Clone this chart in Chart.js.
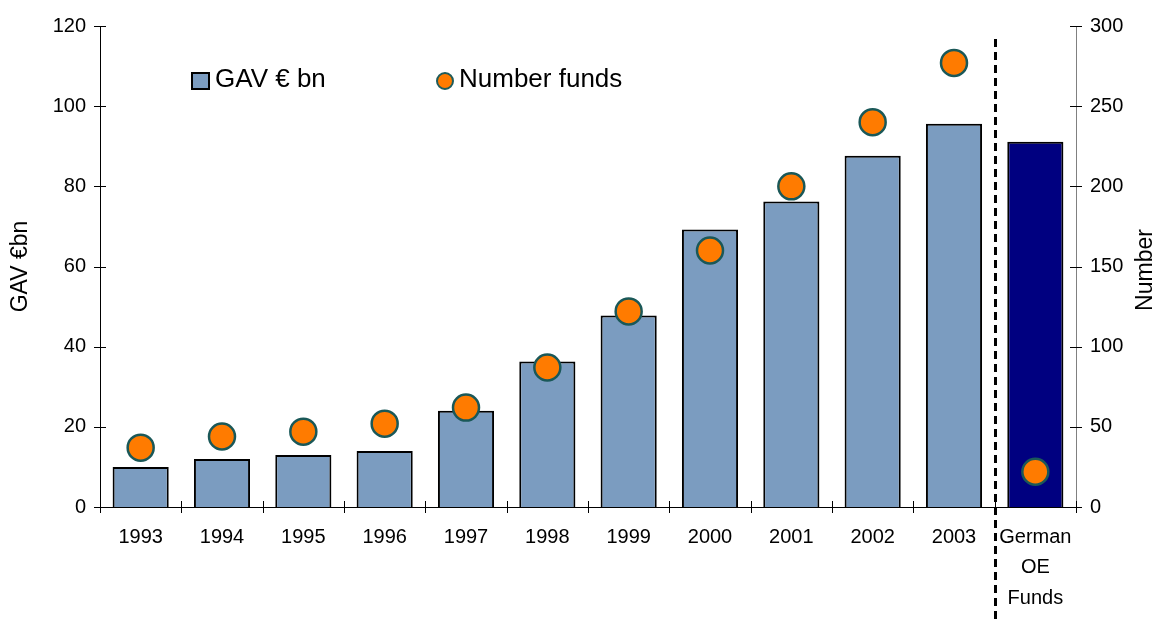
<!DOCTYPE html>
<html lang="en">
<head>
    <meta charset="UTF-8">
    <title>GAV and number of funds</title>
    <script src="https://cdn.jsdelivr.net/npm/chart.js"></script>
    <style>
        html, body { margin: 0; padding: 0; background: #fff; }
        .chart-container { position: relative; width: 1158px; height: 619px; }
    </style>
</head>
<body>
    <div class="chart-container">
        <canvas id="gavChart" width="1158" height="619"></canvas>
    </div>

    <script>
        // Years plus the German open-ended funds comparison column
        const categories = ['1993', '1994', '1995', '1996', '1997', '1998', '1999',
                            '2000', '2001', '2002', '2003', ['German', 'OE', 'Funds']];
        const gavValues = [10, 12, 13, 14, 24, 36.3, 47.8, 69.2, 76.2, 87.6, 95.6, 91.1];
        const fundCounts = [37, 44, 47, 52, 62, 87, 122, 160, 200, 240, 277, 22];
        const gavTicks = [0, 20, 40, 60, 80, 100, 120];
        const countTicks = [0, 50, 100, 150, 200, 250, 300];

        const FONT = 'Arial, "Liberation Sans", sans-serif';
        const barColors = categories.map((c, i) => i === categories.length - 1 ? '#000080' : '#7b9cc0');

        // Tick marks that cross the axis lines, like the original chart
        const crossTicks = {
            id: 'crossTicks',
            afterDraw(chart) {
                const ctx = chart.ctx;
                const { x, y, y1 } = chart.scales;
                const area = chart.chartArea;
                ctx.save();
                ctx.lineWidth = 1;
                ctx.strokeStyle = '#000';
                ctx.beginPath();
                y.ticks.forEach(t => {
                    const py = Math.round(y.getPixelForValue(t.value)) + 0.5;
                    ctx.moveTo(area.left - 6, py);
                    ctx.lineTo(area.left + 6, py);
                });
                y1.ticks.forEach(t => {
                    const py = Math.round(y1.getPixelForValue(t.value)) + 0.5;
                    ctx.moveTo(area.right - 6, py);
                    ctx.lineTo(area.right + 6, py);
                });
                const step = x.getPixelForValue(1) - x.getPixelForValue(0);
                for (let i = 0; i <= categories.length; i++) {
                    const px = Math.round(x.getPixelForValue(0) - step / 2 + i * step) + 0.5;
                    ctx.moveTo(px, area.bottom - 6);
                    ctx.lineTo(px, area.bottom + 6);
                }
                ctx.stroke();

                // dashed separator before the comparison column
                const sepX = Math.round(x.getPixelForValue(categories.length - 1) - step / 2) + 0.5;
                ctx.beginPath();
                ctx.lineWidth = 3;
                ctx.setLineDash([8, 5]);
                ctx.moveTo(sepX, 39);
                ctx.lineTo(sepX, chart.height);
                ctx.stroke();
                ctx.restore();
            }
        };

        // Legend placed inside the plot, plus the right axis title
        const insideLegend = {
            id: 'insideLegend',
            afterDraw(chart) {
                const ctx = chart.ctx;
                const ds = chart.data.datasets;
                ctx.save();
                ctx.font = '26px ' + FONT;
                ctx.textBaseline = 'middle';
                ctx.fillStyle = '#7b9cc0';
                ctx.fillRect(192, 73, 17, 16);
                ctx.lineWidth = 2;
                ctx.strokeStyle = '#000';
                ctx.strokeRect(192, 73, 17, 16);
                ctx.fillStyle = '#000';
                ctx.fillText(ds[1].label, 215, 80);

                ctx.beginPath();
                ctx.arc(445, 81, 8, 0, Math.PI * 2);
                ctx.fillStyle = '#ff7b00';
                ctx.fill();
                ctx.strokeStyle = '#1e5c5c';
                ctx.lineWidth = 2;
                ctx.stroke();
                ctx.fillStyle = '#000';
                ctx.fillText(ds[0].label, 459, 80);

                ctx.font = '23px ' + FONT;
                ctx.translate(1146, 270);
                ctx.rotate(-Math.PI / 2);
                ctx.textAlign = 'center';
                ctx.fillText('Number', 0, 0);
                ctx.restore();
            }
        };

        new Chart(document.getElementById('gavChart'), {
            data: {
                labels: categories,
                datasets: [{
                    type: 'line',
                    label: 'Number funds',
                    data: fundCounts,
                    yAxisID: 'y1',
                    showLine: false,
                    pointRadius: 13,
                    pointHoverRadius: 13,
                    backgroundColor: '#ff7b00',
                    borderColor: '#1a5858',
                    borderWidth: 2.5,
                    order: 0
                }, {
                    type: 'bar',
                    label: 'GAV € bn',
                    data: gavValues,
                    yAxisID: 'y',
                    backgroundColor: barColors,
                    borderColor: '#000',
                    borderWidth: 2,
                    barPercentage: 0.69,
                    categoryPercentage: 1,
                    order: 1
                }]
            },
            options: {
                responsive: false,
                animation: false,
                layout: { padding: { top: 25, left: 0, right: 0, bottom: 0 } },
                plugins: {
                    legend: { display: false },
                    tooltip: { enabled: false }
                },
                scales: {
                    x: {
                        type: 'category',
                        offset: true,
                        grid: { display: false, drawTicks: false },
                        border: { color: '#000', width: 1 },
                        ticks: {
                            color: '#000',
                            font: { family: FONT, size: 20, lineHeight: 1.52 },
                            padding: 15,
                            maxRotation: 0,
                            autoSkip: false
                        },
                        afterFit: scale => { scale.height = 112; }
                    },
                    y: {
                        position: 'left',
                        min: 0,
                        max: 120,
                        afterBuildTicks: scale => { scale.ticks = gavTicks.map(v => ({ value: v })); },
                        grid: { display: false, drawTicks: false },
                        border: { color: '#000', width: 1 },
                        ticks: {
                            color: '#000',
                            font: { family: FONT, size: 20 },
                            padding: 14
                        },
                        title: {
                            display: true,
                            text: 'GAV €bn',
                            color: '#000',
                            font: { family: FONT, size: 23 },
                            padding: { top: 7, bottom: 0 }
                        },
                        afterFit: scale => { scale.width = 100; }
                    },
                    y1: {
                        position: 'right',
                        min: 0,
                        max: 300,
                        afterBuildTicks: scale => { scale.ticks = countTicks.map(v => ({ value: v })); },
                        grid: { display: false, drawTicks: false },
                        border: { color: '#808080', width: 1 },
                        ticks: {
                            color: '#000',
                            font: { family: FONT, size: 20 },
                            padding: 14
                        },
                        afterFit: scale => { scale.width = 82; }
                    }
                }
            },
            plugins: [crossTicks, insideLegend]
        });
    </script>
</body>
</html>
